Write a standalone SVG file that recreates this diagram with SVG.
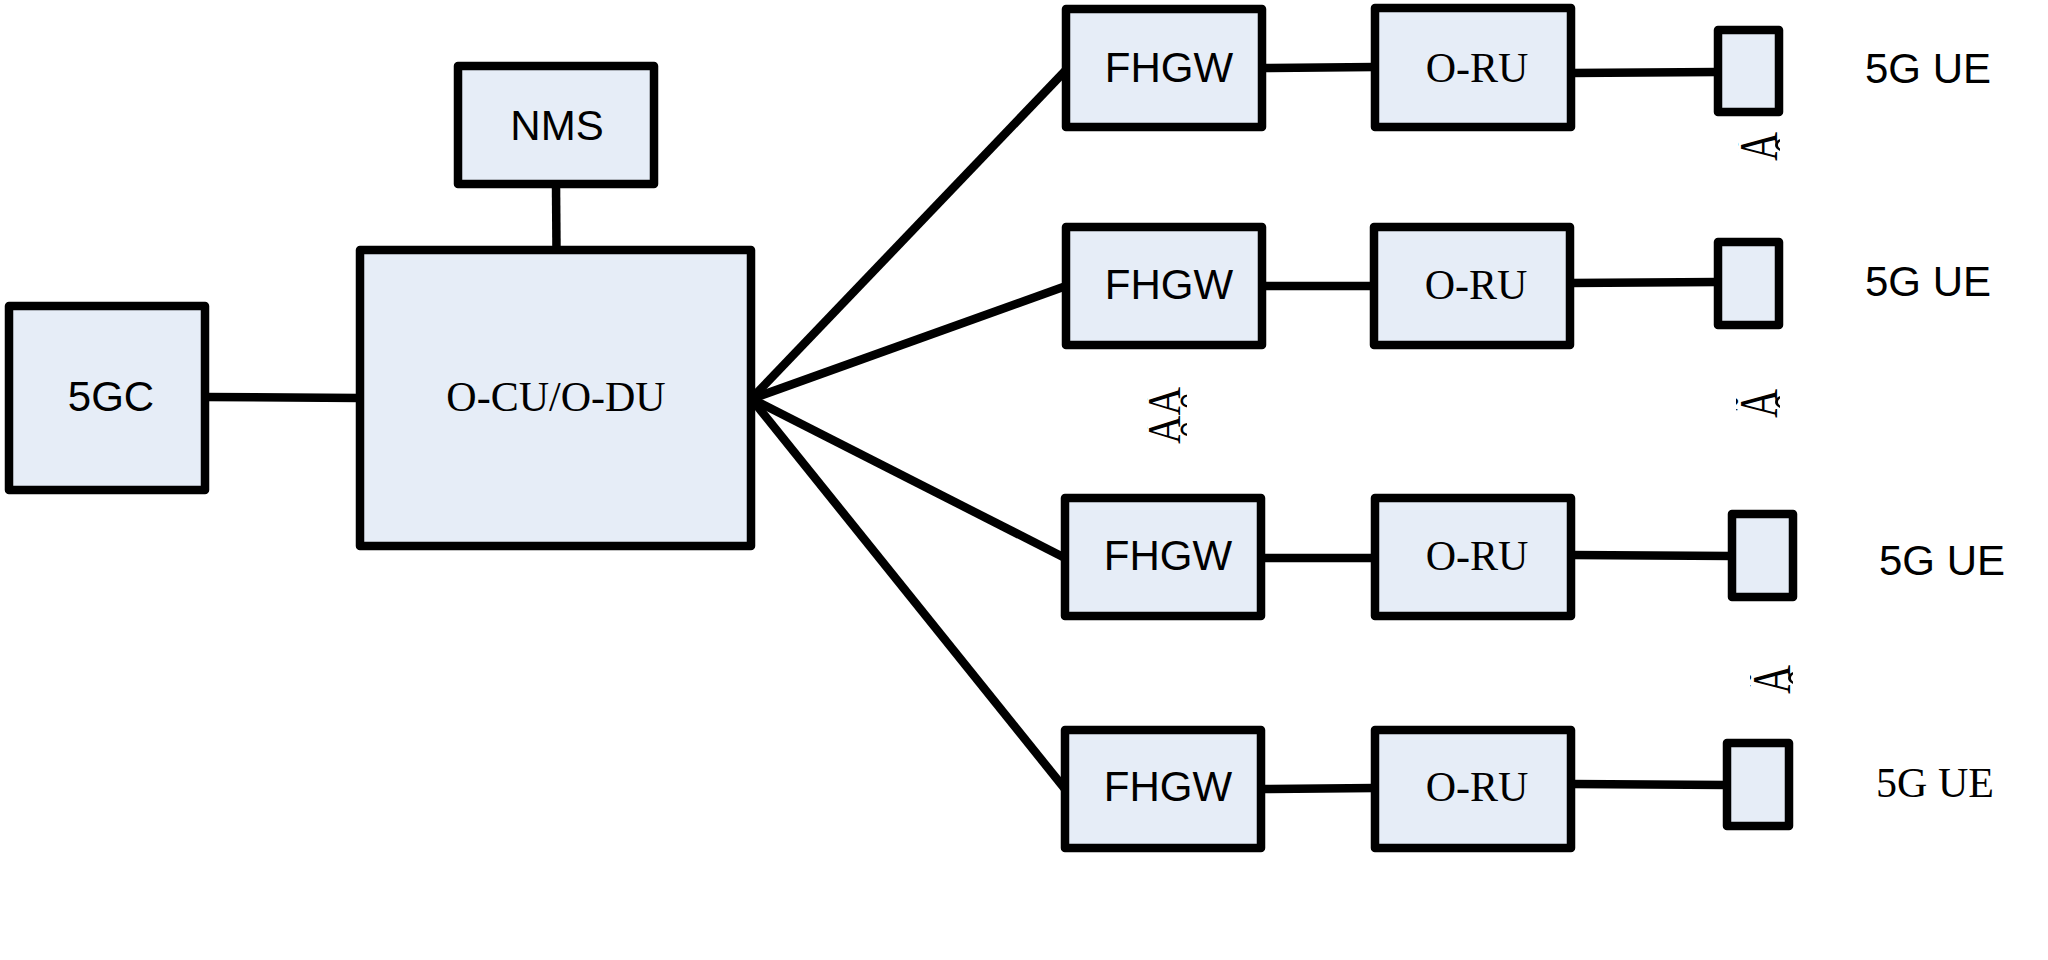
<svg xmlns="http://www.w3.org/2000/svg" width="2048" height="960" viewBox="0 0 2048 960">
<style>
.box{fill:#E6EDF7;stroke:#000;stroke-width:8.5;stroke-linejoin:round}
.ln{stroke:#000;stroke-width:8.5;fill:none;stroke-linecap:butt}
.s{font-family:"Liberation Sans",Arial,sans-serif;font-size:42px;fill:#000;text-anchor:middle}
.r{font-family:"Liberation Serif","Times New Roman",serif;font-size:42px;fill:#000;text-anchor:middle}
.g{font-family:"Liberation Serif","Times New Roman",serif;fill:#000}
</style>
<defs>
<clipPath id="c1"><rect x="1738" y="100" width="42" height="80"/></clipPath>
<clipPath id="c2"><rect x="1736" y="360" width="44" height="80"/></clipPath>
<clipPath id="c3"><rect x="1750" y="640" width="43" height="80"/></clipPath>
<clipPath id="c4"><rect x="1147" y="370" width="40" height="90"/></clipPath>
</defs>
<rect width="2048" height="960" fill="#fff"/>
<g id="connectors">
<line class="ln" x1="205" y1="397" x2="360" y2="398"/>
<line class="ln" x1="556" y1="185" x2="556.5" y2="250"/>
<line class="ln" x1="754" y1="396" x2="1066" y2="70"/>
<line class="ln" x1="754" y1="398" x2="1066" y2="286"/>
<line class="ln" x1="754" y1="400" x2="1065" y2="558"/>
<line class="ln" x1="754" y1="402" x2="1065" y2="789"/>
<line class="ln" x1="1262" y1="68" x2="1375" y2="67"/>
<line class="ln" x1="1262" y1="286" x2="1374" y2="286"/>
<line class="ln" x1="1261" y1="558" x2="1375" y2="558"/>
<line class="ln" x1="1261" y1="789" x2="1375" y2="788"/>
<line class="ln" x1="1571" y1="73" x2="1718" y2="72"/>
<line class="ln" x1="1570" y1="283" x2="1718" y2="282"/>
<line class="ln" x1="1571" y1="555" x2="1732" y2="556"/>
<line class="ln" x1="1571" y1="784" x2="1727" y2="785"/>
</g>
<g id="n5gc"><rect class="box" x="9" y="306" width="196" height="184"/><text class="s" x="111" y="411">5GC</text></g>
<g id="nms"><rect class="box" x="458" y="66" width="196" height="118"/><text class="s" x="557" y="140">NMS</text></g>
<g id="ocudu"><rect class="box" x="360" y="250" width="391" height="296"/><text class="r" x="556" y="411">O-CU/O-DU</text></g>
<g id="fhgw1"><rect class="box" x="1066" y="9" width="196" height="118"/><text class="s" x="1169" y="82">FHGW</text></g>
<g id="fhgw2"><rect class="box" x="1066" y="227" width="196" height="118"/><text class="s" x="1169" y="299">FHGW</text></g>
<g id="fhgw3"><rect class="box" x="1065" y="498" width="196" height="118"/><text class="s" x="1168" y="570">FHGW</text></g>
<g id="fhgw4"><rect class="box" x="1065" y="730" width="196" height="118"/><text class="s" x="1168" y="801">FHGW</text></g>
<g id="oru1"><rect class="box" x="1375" y="8" width="196" height="119"/><text class="r" x="1477" y="82">O-RU</text></g>
<g id="oru2"><rect class="box" x="1374" y="227" width="196" height="118"/><text class="r" x="1476" y="299">O-RU</text></g>
<g id="oru3"><rect class="box" x="1375" y="498" width="196" height="118"/><text class="r" x="1477" y="570">O-RU</text></g>
<g id="oru4"><rect class="box" x="1375" y="730" width="196" height="118"/><text class="r" x="1477" y="801">O-RU</text></g>
<g id="ue1"><rect class="box" x="1718" y="30" width="61" height="82"/><text class="s" x="1928" y="83">5G UE</text></g>
<g id="ue2"><rect class="box" x="1718" y="242" width="61" height="83"/><text class="s" x="1928" y="296">5G UE</text></g>
<g id="ue3"><rect class="box" x="1732" y="514" width="61" height="83"/><text class="s" x="1942" y="575">5G UE</text></g>
<g id="ue4"><rect class="box" x="1727" y="743" width="62" height="83"/><text class="r" x="1935" y="797">5G UE</text></g>
<g id="marks">
<g clip-path="url(#c1)"><text class="g" font-size="55" transform="translate(1777,161) rotate(-90) scale(0.73,1)">Ã<tspan x="10" y="38" font-size="60">°</tspan></text></g>
<g clip-path="url(#c2)"><text class="g" font-size="55" transform="translate(1777,418) rotate(-90) scale(0.73,1)">Ã<tspan x="10" y="38" font-size="60">°</tspan></text></g>
<g clip-path="url(#c3)"><text class="g" font-size="55" transform="translate(1790,694) rotate(-90) scale(0.73,1)">Ã<tspan x="10" y="38" font-size="60">°</tspan></text></g>
<g clip-path="url(#c4)"><text class="g" font-size="46" transform="translate(1180,444) rotate(-90) scale(0.86,1)">ÃÃ<tspan x="7" y="34" font-size="50">°</tspan><tspan x="40" y="34" font-size="50">°</tspan></text></g>
</g>
</svg>
